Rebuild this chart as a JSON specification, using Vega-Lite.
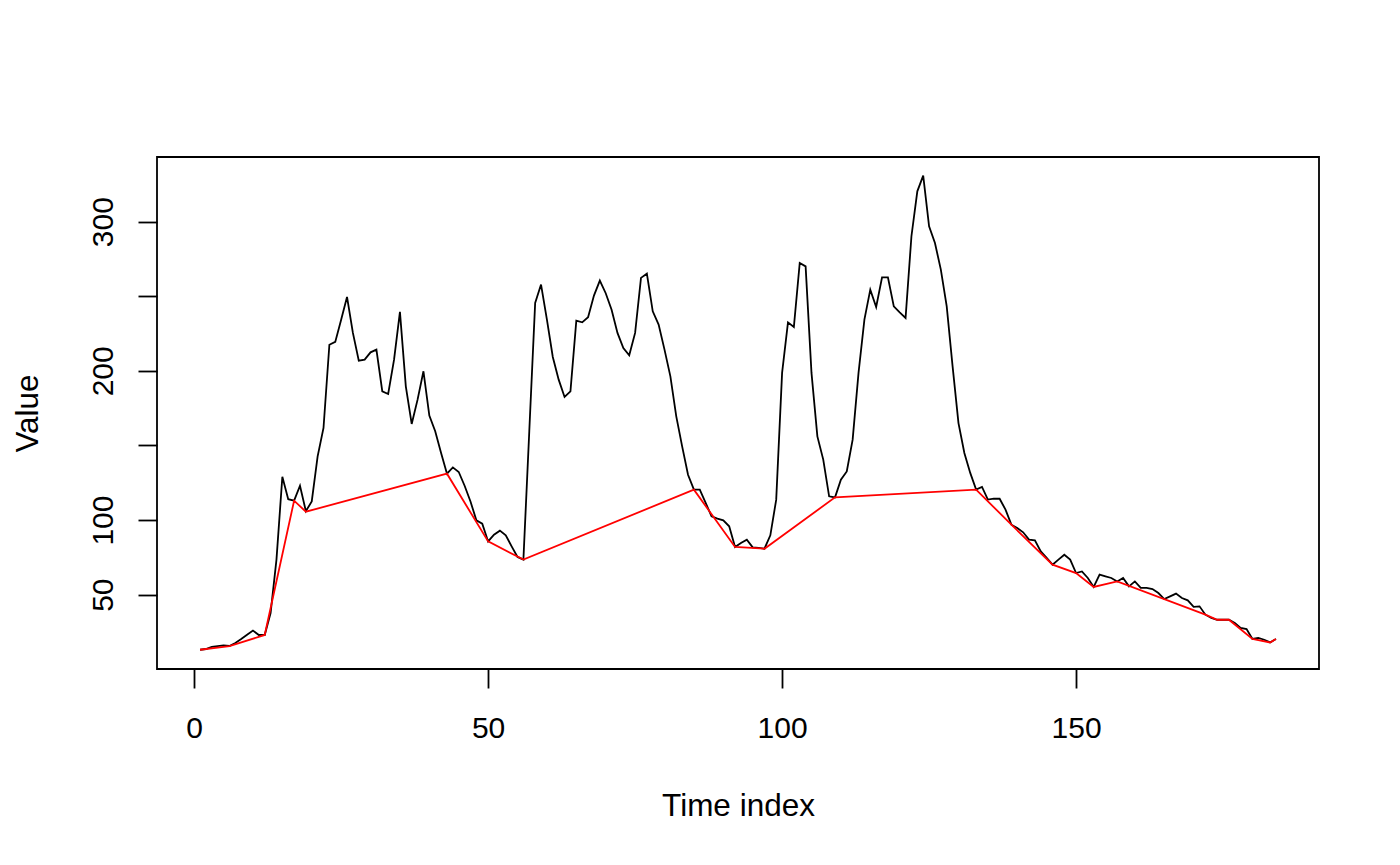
{
  "$schema": "https://vega.github.io/schema/vega-lite/v6.json",
  "width": 1162,
  "height": 512,
  "autosize": "none",
  "padding": {"left": 157, "top": 157, "right": 81, "bottom": 196},
  "background": "white",
  "config": {
    "view": {"stroke": "black", "strokeWidth": 1.8},
    "font": "Liberation Sans",
    "axis": {
      "grid": false,
      "domain": false,
      "ticks": true,
      "tickColor": "black",
      "tickWidth": 1.8,
      "tickSize": 19,
      "labelColor": "black",
      "labelFont": "Liberation Sans",
      "labelFontSize": 30,
      "titleFont": "Liberation Sans",
      "titleFontSize": 31.5,
      "titleFontWeight": "normal",
      "titleColor": "black"
    }
  },
  "datasets": {
    "obs": [
      {"t":1,"v":13.1},{"t":2,"v":13.6},{"t":3,"v":15},{"t":4,"v":15.6},{"t":5,"v":16},{"t":6,"v":15.6},{"t":7,"v":17.6},{"t":8,"v":20.3},{"t":9,"v":23.2},{"t":10,"v":26},
      {"t":11,"v":23},{"t":12,"v":23},{"t":13,"v":37.7},{"t":14,"v":73.5},{"t":15,"v":129},{"t":16,"v":114},{"t":17,"v":113},{"t":18,"v":123},{"t":19,"v":106},{"t":20,"v":112.5},
      {"t":21,"v":142.7},{"t":22,"v":161.7},{"t":23,"v":217.5},{"t":24,"v":219.4},{"t":25,"v":234.3},{"t":26,"v":249.5},{"t":27,"v":225.4},{"t":28,"v":206.8},{"t":29,"v":207.5},{"t":30,"v":212.4},
      {"t":31,"v":214.2},{"t":32,"v":186.3},{"t":33,"v":184.5},{"t":34,"v":207.5},{"t":35,"v":239.5},{"t":36,"v":189.6},{"t":37,"v":164.4},{"t":38,"v":180.7},{"t":39,"v":199.7},{"t":40,"v":170},
      {"t":41,"v":159.5},{"t":42,"v":145},{"t":43,"v":131.1},{"t":44,"v":135.3},{"t":45,"v":132.2},{"t":46,"v":123},{"t":47,"v":112.5},{"t":48,"v":99.8},{"t":49,"v":97.6},{"t":50,"v":85.7},
      {"t":51,"v":90.2},{"t":52,"v":92.9},{"t":53,"v":89.8},{"t":54,"v":82.4},{"t":55,"v":75.3},{"t":56,"v":73.5},{"t":57,"v":159.5},{"t":58,"v":245.5},{"t":59,"v":257.8},{"t":60,"v":234.3},
      {"t":61,"v":209.3},{"t":62,"v":194.1},{"t":63,"v":182.5},{"t":64,"v":186.3},{"t":65,"v":233.6},{"t":66,"v":232.5},{"t":67,"v":235.9},{"t":68,"v":250.4},{"t":69,"v":260.5},{"t":70,"v":252},
      {"t":71,"v":241},{"t":72,"v":225.4},{"t":73,"v":215.3},{"t":74,"v":210.4},{"t":75,"v":225.4},{"t":76,"v":262.3},{"t":77,"v":265.1},{"t":78,"v":239.9},{"t":79,"v":231},{"t":80,"v":214.2},
      {"t":81,"v":196.3},{"t":82,"v":169.5},{"t":83,"v":149.4},{"t":84,"v":130.4},{"t":85,"v":120.4},{"t":86,"v":120.4},{"t":87,"v":111.5},{"t":88,"v":102.5},{"t":89,"v":101},{"t":90,"v":99.8},
      {"t":91,"v":95.8},{"t":92,"v":82},{"t":93,"v":84.7},{"t":94,"v":86.9},{"t":95,"v":81.7},{"t":96,"v":81.3},{"t":97,"v":80.8},{"t":98,"v":89.8},{"t":99,"v":113.7},{"t":100,"v":198.6},
      {"t":101,"v":232.5},{"t":102,"v":229.4},{"t":103,"v":272.3},{"t":104,"v":270},{"t":105,"v":198.6},{"t":106,"v":156.1},{"t":107,"v":140.5},{"t":108,"v":115.9},{"t":109,"v":115.2},{"t":110,"v":127},
      {"t":111,"v":132.6},{"t":112,"v":153.9},{"t":113,"v":198.6},{"t":114,"v":234.3},{"t":115,"v":254.4},{"t":116,"v":242.8},{"t":117,"v":262.7},{"t":118,"v":262.7},{"t":119,"v":243.2},{"t":120,"v":239.2},
      {"t":121,"v":235.4},{"t":122,"v":290.2},{"t":123,"v":320.3},{"t":124,"v":330.8},{"t":125,"v":296.9},{"t":126,"v":285.7},{"t":127,"v":267.8},{"t":128,"v":243.2},{"t":129,"v":203},{"t":130,"v":165},
      {"t":131,"v":145},{"t":132,"v":131.6},{"t":133,"v":120.4},{"t":134,"v":122.2},{"t":135,"v":113.7},{"t":136,"v":114.3},{"t":137,"v":114.3},{"t":138,"v":107},{"t":139,"v":96.9},{"t":140,"v":94.7},
      {"t":141,"v":91.8},{"t":142,"v":86.9},{"t":143,"v":86.4},{"t":144,"v":79},{"t":145,"v":74.6},{"t":146,"v":70.1},{"t":147,"v":73.5},{"t":148,"v":76.8},{"t":149,"v":73.5},{"t":150,"v":64.5},
      {"t":151,"v":65.6},{"t":152,"v":61.2},{"t":153,"v":55.2},{"t":154,"v":63.4},{"t":155,"v":62.3},{"t":156,"v":61.2},{"t":157,"v":58.9},{"t":158,"v":61.2},{"t":159,"v":55.6},{"t":160,"v":58.9},
      {"t":161,"v":54.5},{"t":162,"v":54.5},{"t":163,"v":53.8},{"t":164,"v":51.1},{"t":165,"v":47.1},{"t":166,"v":48.9},{"t":167,"v":50.7},{"t":168,"v":47.8},{"t":169,"v":46.2},{"t":170,"v":41.8},
      {"t":171,"v":42.2},{"t":172,"v":36.6},{"t":173,"v":34.4},{"t":174,"v":33.2},{"t":175,"v":33.2},{"t":176,"v":33.2},{"t":177,"v":31},{"t":178,"v":27.7},{"t":179,"v":27},{"t":180,"v":20.3},
      {"t":181,"v":21},{"t":182,"v":19.8},{"t":183,"v":18},{"t":184,"v":20.3}
    ],
    "env": [
      {"t":1,"v":13.1},{"t":6,"v":15.6},{"t":12,"v":23},{"t":17,"v":113},{"t":19,"v":105.6},{"t":43,"v":131.1},{"t":50,"v":85.7},{"t":56,"v":73.5},
      {"t":85,"v":120.4},{"t":92,"v":82},{"t":97,"v":80.8},{"t":109,"v":115.2},{"t":133,"v":120.4},{"t":139,"v":96.9},{"t":146,"v":70.1},{"t":150,"v":64.5},
      {"t":153,"v":55.2},{"t":157,"v":58.9},{"t":172,"v":36.6},{"t":174,"v":33.2},{"t":176,"v":33.2},{"t":180,"v":20.3},{"t":183,"v":18},{"t":184,"v":20.3}
    ]
  },
  "encoding": {
    "x": {
      "field": "t", "type": "quantitative",
      "scale": {"domain": [-6.32, 191.32], "nice": false, "zero": false},
      "axis": {
        "values": [0, 50, 100, 150],
        "labelPadding": 25,
        "labelBaseline": "top",
        "labelAngle": 0,
        "title": "Time index",
        "titleBaseline": "alphabetic",
        "titleX": 581,
        "titleY": 146,
        "titleAnchor": null
      }
    },
    "y": {
      "field": "v", "type": "quantitative",
      "scale": {"domain": [0.2, 343.3], "nice": false, "zero": false},
      "axis": {
        "values": [50, 100, 150, 200, 250, 300],
        "labelExpr": "datum.value == 150 || datum.value == 250 ? '' : datum.label",
        "labelAngle": -90,
        "labelAlign": "center",
        "labelBaseline": "bottom",
        "labelPadding": 20,
        "title": "Value",
        "titleAngle": -90,
        "titleBaseline": "alphabetic",
        "titleAlign": "center",
        "titleX": -120,
        "titleY": 256
      }
    }
  },
  "layer": [
    {
      "data": {"name": "obs"},
      "mark": {"type": "line", "color": "black", "strokeWidth": 1.8, "clip": true}
    },
    {
      "data": {"name": "env"},
      "mark": {"type": "line", "color": "#FF0000", "strokeWidth": 1.8, "clip": true}
    }
  ]
}
